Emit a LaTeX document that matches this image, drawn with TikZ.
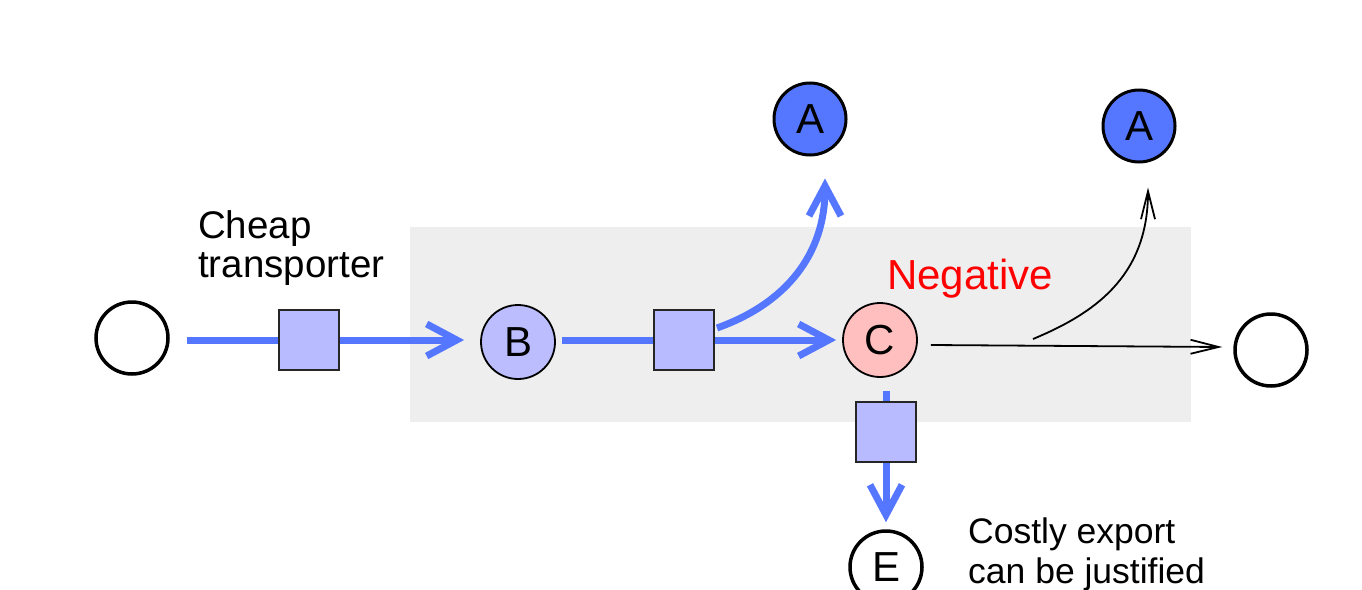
\documentclass[tikz,border=0pt]{standalone}
\usepackage{fontspec}
\setmainfont{Liberation Sans}
\usetikzlibrary{arrows.meta,calc}
\definecolor{flowblue}{HTML}{5577FF}
\definecolor{boxblue}{HTML}{B8BBFF}
\definecolor{bfill}{HTML}{BBBDFF}
\definecolor{cfill}{HTML}{FFBFBF}
\definecolor{panelgray}{HTML}{EEEEEE}
\definecolor{negred}{HTML}{FF0000}
\tikzset{
  emptyc/.style={circle,draw=black,line width=3.5pt,fill=white,minimum size=72pt,inner sep=0pt,font=\fontsize{42}{46}\selectfont},
  afill/.style={circle,draw=black,line width=3pt,fill=flowblue,minimum size=72pt,inner sep=0pt,font=\fontsize{42}{46}\selectfont},
  thinc/.style={circle,draw=black,line width=1.8pt,minimum size=74pt,inner sep=0pt,font=\fontsize{42}{46}\selectfont},
  valve/.style={rectangle,draw=black!85,line width=2pt,fill=boxblue,minimum size=60pt,inner sep=0pt},
  bflow/.style={draw=flowblue,line width=7pt},
  bflowarrow/.style={bflow,-{Straight Barb[length=30pt,width=32pt]}},
  kflow/.style={draw=black,line width=1.8pt,-{Straight Barb[length=28pt,width=14pt]}},
  lbl/.style={inner sep=0pt,anchor=base west,align=left}
}
\begin{document}
\begin{tikzpicture}[x=1pt,y=-1pt]
\useasboundingbox (0,0) rectangle (1362,589);
\fill[panelgray] (410,227) rectangle (1191,422);
% nodes
\node[emptyc] (L) at (132,338) {};
\node[valve] (S1) at (309,340) {};
\node[thinc,fill=bfill] (B) at (518,342) {B};
\node[valve] (S2) at (684,340) {};
\node[afill] (A1) at (810,119) {A};
\node[thinc,fill=cfill] (C) at (880,340) {C};
\node[afill] (A2) at (1139,126) {A};
\node[emptyc] (R) at (1271,350) {};
\node[valve] (S3) at (886,432) {};
\node[emptyc] (E) at (886,567) {E};
\node[font=\fontsize{42}{46}\selectfont, text=negred, inner sep=0pt, anchor=base west] (neg) at (887,289) {Negative};
\node[lbl,font=\fontsize{38.5}{39}\selectfont] (cheap) at (198,277) {Cheap\\transporter};
\node[lbl,font=\fontsize{35.5}{40}\selectfont] (costly) at (968,583) {Costly export\\can be justified};
% blue flows
\draw[bflow] ([xshift=17pt]L.east |- S1.west) -- (S1.west);
\draw[bflowarrow] (S1.east) -- ([xshift=-16pt]B.west |- S1.east);
\draw[bflow] ([xshift=6pt]B.east |- S2.west) -- (S2.west);
\draw[bflowarrow] (S2.east) -- ([xshift=-6pt]C.west |- S2.east);
\coordinate (S2a) at ([shift={(2,-12)}]S2.east);
\coordinate (A1t) at ([shift={(15,22)}]A1.south);
\draw[bflowarrow] (S2a) .. controls +(70,-25) and +(0,75) .. (A1t);
\draw[bflow] ([yshift=-13pt]S3.north |- C.south) -- (S3.north);
\draw[bflowarrow] (S3.south) -- ([yshift=7pt]E.north);
% black flows
\draw[kflow] ([shift={(13,5)}]C.east) -- ([shift={(-11,-3)}]R.west);
\coordinate (km) at (1033,339);
\coordinate (A2t) at ([shift={(9,24)}]A2.south);
\draw[kflow] (km) .. controls +(60,-25) and +(0,90) .. (A2t);
\end{tikzpicture}
\end{document}
